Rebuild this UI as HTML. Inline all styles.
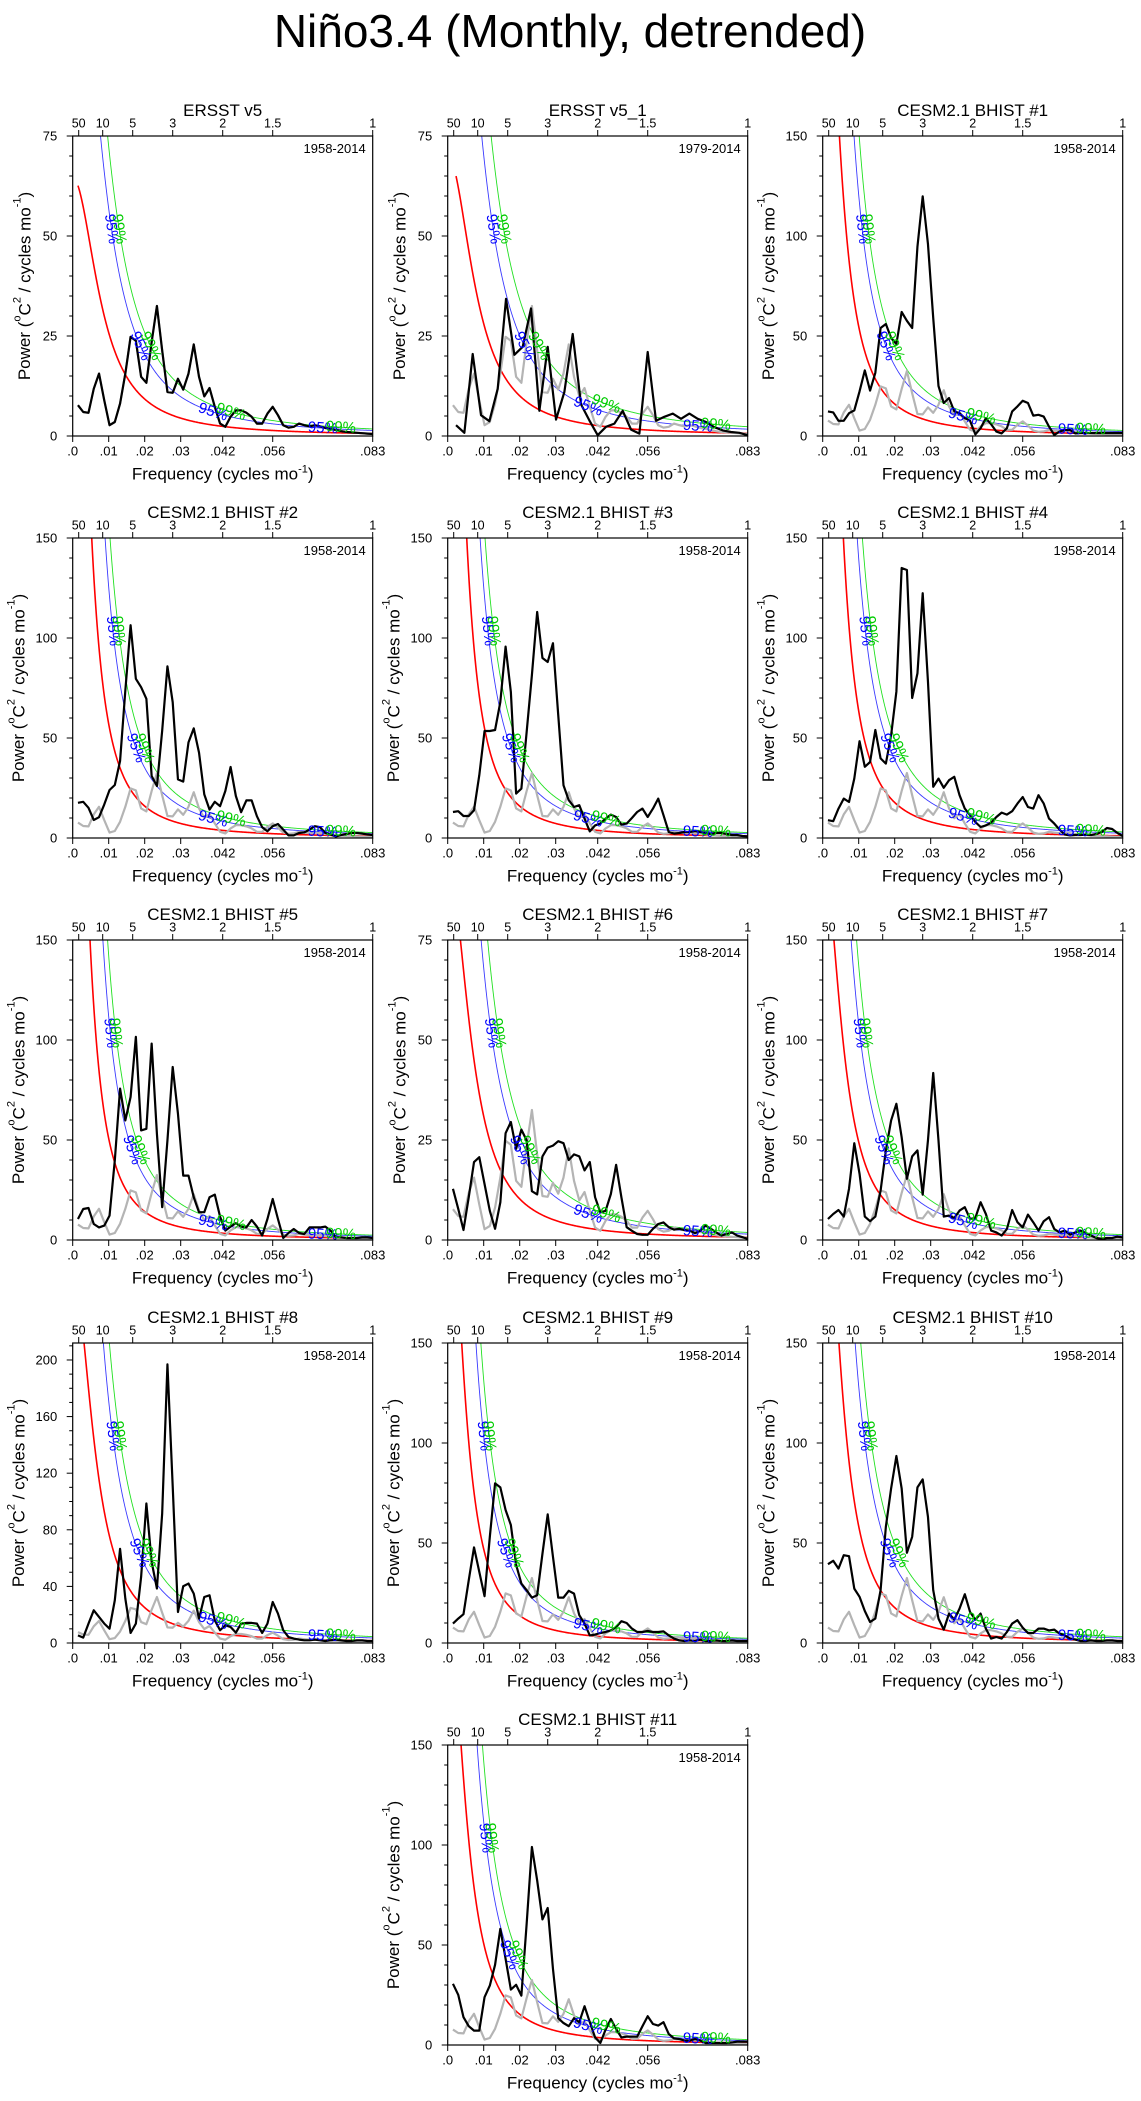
<!DOCTYPE html>
<html><head><meta charset="utf-8"><title>Niño3.4 spectra</title>
<style>html,body{margin:0;padding:0;background:#fff}svg{display:block}text{font-family:"Liberation Sans",Arial,sans-serif}</style>
</head><body>
<svg id="fig" width="1141" height="2101" viewBox="0 0 1141 2101" xmlns="http://www.w3.org/2000/svg">
<rect x="0" y="0" width="1141" height="2101" fill="#fff"/>
<text x="570" y="47" font-size="46" text-anchor="middle">Niño3.4 (Monthly, detrended)</text>
</svg>
<script>
const panelTitles=["ERSST v5","ERSST v5_1","CESM2.1 BHIST #1","CESM2.1 BHIST #2","CESM2.1 BHIST #3","CESM2.1 BHIST #4","CESM2.1 BHIST #5","CESM2.1 BHIST #6","CESM2.1 BHIST #7","CESM2.1 BHIST #8","CESM2.1 BHIST #9","CESM2.1 BHIST #10","CESM2.1 BHIST #11"];
const panelPeriods=["1958-2014","1979-2014","1958-2014","1958-2014","1958-2014","1958-2014","1958-2014","1958-2014","1958-2014","1958-2014","1958-2014","1958-2014","1958-2014"];
const panelYMax=[75,75,150,150,150,150,150,75,150,212,150,150,150];
const nMonths=[684,432,684,684,684,684,684,684,684,684,684,684,684];
const redLag1=[0.95,0.95,0.97,0.975,0.975,0.975,0.975,0.957,0.964,0.96,0.97,0.966,0.966];
const redScale=[0.1615,0.1755,0.259,0.255,0.255,0.284,0.227,0.174,0.25,0.419,0.222,0.29,0.252];
const ci95=[2.2,2.5,2.2,2.2,2.2,2.2,2.2,2.2,2.2,2.2,2.2,2.2,2.2];
const ci99=[2.8,3.4,2.8,2.8,2.8,2.8,2.8,2.8,2.8,2.8,2.8,2.8,2.8];
const xTickLabels=[".0",".01",".02",".03",".042",".056",".083"];
const xTickFreqs=[0,0.01,0.02,0.03,1/24,1/18,1/12];
const topTickLabels=["50","10","5","3","2","1.5","1"];
const topTickPeriods=[50,10,5,3,2,1.5,1];
const ersst=[7.7,6.0,5.8,11.8,15.6,8.9,2.7,3.5,8.1,15.6,24.8,23.8,14.8,13.3,23.5,32.5,21.4,11,10.8,14.3,11.6,15.6,22.9,14.8,9.9,12,7.3,3.1,2.3,4.8,6.4,6.4,5.8,4.8,3.1,3.1,5.6,7.3,5.2,2.7,2.1,2.3,3.1,2.7,2.4,2.7,2.4,2.0,1.8,1.5,1.2,1.0,0.9,0.8,0.7,0.6,0.5];
const ersst1=[2.7,0.8,20.5,5.2,3.7,11.8,34.3,20.3,22.3,31.9,6.3,22.3,4.1,11.0,25.5,7.9,3.9,0.2,2.3,3.1,6.3,1.6,0.6,21.0,3.8,4.8,5.6,4.3,5.6,4.3,3.5,2.2,1.4,1.0,0.8,0.2];
const bhist1=[12.3,11.8,7.6,7.6,11.4,12.8,22.3,32.8,22.7,31.6,54,56,49,46,62,57.6,54,94.6,119.8,96,59,25,16.5,19,12.3,11.4,8.9,7.6,0.8,3.9,8.9,5.9,2.2,1.3,3.9,12.3,14.8,17.6,16.5,10.2,10.6,9.7,4.7,0.5,2.2,3,3,1.3,1.5,1.5,1.5,1.5,1.5,1.5,1.5,1.5,1.5];
const bhist2=[17.6,18.1,15.1,9.0,10.4,16.8,24,26.5,38.5,73.7,106.4,79.6,75.4,69.6,31,26,53.6,85.8,67.9,29.3,28.2,47.8,54.8,42.7,21.8,14.2,18.1,15.9,23.5,35.5,21,12.9,18.8,18.8,10.9,5.4,3.4,5.9,7,4.2,1.3,1.3,2.5,2.8,4.2,5.9,5.4,2.5,1.7,0.8,1.5,2,2.5,2.5,2.2,1.8,1.5];
const bhist3=[13,13.4,11,11,13.9,31.4,53.5,53.5,54,68,95.7,73,22.2,24.7,53,81.5,113,90,88,97.4,61.5,26.4,18.9,15.5,16.4,9.7,3.3,6.3,7.2,9.7,11.7,10.5,6.7,7.2,10,13,14.7,10.5,14.7,19.7,11.4,3,2.2,2.5,3,3,3.5,3,2.5,2,2.5,2.5,2,1.5,1.5,1.0,0.8];
const bhist4=[8.9,8.4,14.7,19.7,18,29.7,48.4,35.6,38,54,39.8,37.2,51.4,73.2,135,134,70,82.3,122.4,78.2,25.6,29.7,25.1,28.9,30.6,21.4,14.7,11.4,8,5.5,6.3,7.7,10.5,12.7,11.7,13.4,17.2,20.5,15.5,14.7,21.4,17.2,9.7,7.2,4.2,1.7,1.3,1.5,1.5,1.7,1.5,2,3,5,4.5,2.5,1];
const bhist5=[10.5,15.5,16,8,6.3,7.2,12.2,39.8,75.7,59.8,71.5,101.6,54.8,55.6,98.2,53.1,16.4,49.8,86.5,63.1,32.2,32.2,21.4,13.9,13.9,21.4,22.7,11.7,4.7,6.7,8.4,6.7,6.3,10,6.7,2.2,10.5,20.5,10.5,1,3.5,5.5,3.5,3,6.3,6.3,6.3,6.7,4.7,1.3,1.3,1,1,1,1.3,1.3,1];
const bhist6=[12.8,7.8,2.5,10.7,19.5,20.7,14,7.3,2.8,9.4,26.7,29.5,22.8,27.6,24.9,12.2,11.4,20.9,23.1,23.6,24.7,24.2,20,21.4,20.9,17.4,19.5,10.7,6.9,7.3,11.5,18.8,10.7,3.2,2.3,1.5,1.3,1.3,2.8,4,4.4,3.2,2.6,2.8,2.5,2.3,1.7,2.3,3.6,2.8,1.9,1.1,1.5,1.9,1.1,0.7,0.3];
const bhist7=[10.5,13.0,15.0,11.7,25.6,48.4,33.1,11.7,9.4,11.7,24.7,44.8,59.8,68.1,51.4,30.6,41.8,44.8,22.7,49.8,83.5,49.8,11.7,12.2,11.0,14.7,16.4,10.5,11.0,18.9,13.0,4.7,3.8,2.2,5.5,15.0,8.9,6.3,12.7,8.9,4.7,9.4,11.4,5.5,3.8,4.7,2.7,3.8,4.7,3.5,2.2,1.0,0.5,1.0,1.0,1.7,1.3];
const bhist8=[5.4,3.8,13.7,23.1,18.4,13.7,10.1,30.2,66.5,31.4,7.1,13.7,46.7,98.6,57.3,38.5,91.5,196.9,110.8,21.9,40.1,42.0,34.9,17.2,32.5,33.7,16.0,9.0,12.5,11.3,7.3,13.7,14.2,14.2,13.7,7.1,13.7,29.0,20.8,9.0,4.2,3.1,2.4,1.9,1.9,2.4,1.9,1.4,1.9,2.4,1.9,1.4,1.4,1.9,1.9,1.4,1.4];
const bhist9=[9.7,12.2,14.4,31.4,47.8,35.6,23.4,53,79.8,77.8,66.5,59,39.1,29.7,26.4,22.7,23.9,44.6,64.3,43.1,22.7,22.7,26.1,24.7,13.9,9.7,3.8,4.2,5,5.5,6.3,8,10.9,10,7.2,5.5,5.5,6,5.5,5.5,5.8,3.8,2.2,1.3,1.0,1.3,1,1.7,1,1,1.3,1,1,1.3,1,1,1];
const bhist10=[39.4,41.1,37.2,43.9,43.4,27.2,23.1,16,10.5,12.2,26.4,58.1,77.3,93.5,77.3,45.1,53.1,77.8,81.8,63.1,26.4,12.2,6.7,14.7,11.7,17.2,24.4,15.5,11.7,14.7,7.2,2.2,3,2.2,5.5,9.7,11.4,7.7,5,5,7.2,7.2,6.3,6.7,4.7,3.8,2.2,1.7,1,1,1.3,1,1,1.3,1.3,1,1];
const bhist11=[30.6,25.1,13.9,9.4,7.2,7.2,23.9,29.7,40.1,58.1,43.1,27.7,30.1,24.7,60.6,99,82.3,62.8,68.5,38.1,13.4,11,9.4,13.4,11.4,19.4,11.4,3.8,1,7.7,13,8,3.8,4.2,4.2,4.2,9.4,14.4,10.5,9.7,11.4,5.5,3.3,3,2.2,2.2,3,2.2,1,1,1,1,1,1.3,1.7,1.7,1.7];
const blackSeries=[ersst,ersst1,bhist1,bhist2,bhist3,bhist4,bhist5,bhist6,bhist7,bhist8,bhist9,bhist10,bhist11];

const NS="http://www.w3.org/2000/svg";
const svg=document.getElementById('fig');
const colX=[72.7,447.7,822.7], rowY=[136,538,940,1343,1745];
const PW=300, PH=300, FMAX=1/12;
function mk(tag,attrs,parent){const e=document.createElementNS(NS,tag);for(const k in attrs)e.setAttribute(k,attrs[k]);parent.appendChild(e);return e;}
function slug(s){return s.toLowerCase().replace(/[^a-z0-9]+/g,'-').replace(/^-|-$/g,'');}

for(let i=0;i<13;i++){
  const col=i===12?1:i%3, row=Math.floor(i/3);
  const L=colX[col], T=rowY[row], ymax=panelYMax[i];
  const xs=f=>L+f/FMAX*PW, ys=v=>T+PH-v/ymax*PH;
  const r=redLag1[i], c=redScale[i];
  const red=f=>c/(1+r*r-2*r*Math.cos(2*Math.PI*f));
  const f0=1/nMonths[i];
  const g=mk('g',{},svg);
  
  
  const cid='clip'+i;
  const cp=mk('clipPath',{id:cid},g); mk('rect',{x:L,y:T,width:PW,height:PH},cp);
  const plot=mk('g',{'clip-path':'url(#'+cid+')'},g);
  function curvePath(fac){let d='';const n=400;for(let j=0;j<=n;j++){const f=f0+(FMAX-f0)*j/n;const v=red(f)*fac;d+=(j?'L':'M')+xs(f).toFixed(2)+','+Math.max(ys(v),T-50).toFixed(2);}return d;}
  const redP=mk('path',{d:curvePath(1),fill:'none',stroke:'#ff0000','stroke-width':1.6},plot);
  
  
  const bP=mk('path',{d:curvePath(ci95[i]),fill:'none',stroke:'#3a3aff','stroke-width':0.9},plot);
  
  
  const gP=mk('path',{d:curvePath(ci99[i]),fill:'none',stroke:'#22e022','stroke-width':0.9},plot);
  
  
  let dg='';ersst.forEach((v,k)=>{dg+=(k?'L':'M')+xs((k+1)/684).toFixed(2)+','+ys(v).toFixed(2);});
  const grayP=mk('path',{d:dg,fill:'none',stroke:'#b4b4b4','stroke-width':2.2,'stroke-linejoin':'round'},plot);
  
  
  let db='';blackSeries[i].forEach((v,k)=>{db+=(k?'L':'M')+xs((k+1)/nMonths[i]).toFixed(2)+','+ys(v).toFixed(2);});
  const blkP=mk('path',{d:db,fill:'none',stroke:'#000','stroke-width':2.2,'stroke-linejoin':'round'},plot);
  
  
  function solveF(target,fac){let a=f0,b=FMAX;for(let j=0;j<60;j++){const m=(a+b)/2;if(red(m)*fac>target)a=m;else b=m;}return (a+b)/2;}
  function place(f,fac,txt,color,name){const d=0.0005;const x1=xs(f-d),x2=xs(f+d),y1=ys(red(f-d)*fac),y2=ys(red(f+d)*fac);
    const ang=Math.atan2(y2-y1,x2-x1)*180/Math.PI;const x=xs(f),y=ys(red(f)*fac);
    const t=mk('text',{x:x.toFixed(1),y:y.toFixed(1),'font-size':15,fill:color,'text-anchor':'middle','dominant-baseline':'central',transform:`rotate(${ang.toFixed(1)} ${x.toFixed(1)} ${y.toFixed(1)})`},plot);
    
    
    t.textContent=txt;}
  [[ci95[i],'95%','#0000ff','label-95'],[ci99[i],'99%','#00cc00','label-99']].forEach(([fac,txt,color,name],q)=>{
    place(solveF(0.69*ymax,fac),fac,txt,color,name);
    place(solveF(0.30*ymax,fac),fac,txt,color,name);
    place(q?0.044:0.039,fac,txt,color,name);
    place(q?0.0745:0.0695,fac,txt,color,name);
  });
  const fr=mk('rect',{x:L,y:T,width:PW,height:PH,fill:'none',stroke:'#000','stroke-width':1.2},g);
  
  
  const major=ymax===75?25:(ymax===212?40:50), minor=ymax===75?5:10;
  for(let v=0;v<=ymax+1e-6;v+=minor){const y=ys(v);const isMaj=Math.abs(v/major-Math.round(v/major))<1e-6;
    mk('line',{x1:L,x2:L-(isMaj?6:3.5),y1:y,y2:y,stroke:'#000','stroke-width':1},g);
    if(isMaj){const t=mk('text',{x:L-15.5,y:y+4.5,'font-size':13,'text-anchor':'end'},g);
      
      
      t.textContent=String(v);}}
  xTickFreqs.forEach((f,k)=>{const x=xs(f);mk('line',{x1:x,x2:x,y1:T+PH,y2:T+PH+6,stroke:'#000','stroke-width':1},g);
    const t=mk('text',{x:x,y:T+PH+19.5,'font-size':13,'text-anchor':'middle'},g);
    
    
    t.textContent=xTickLabels[k];});
  topTickPeriods.forEach((p,k)=>{const x=xs(1/(12*p));mk('line',{x1:x,x2:x,y1:T,y2:T-6,stroke:'#000','stroke-width':1},g);
    const t=mk('text',{x:x,y:T-8.5,'font-size':12.5,'text-anchor':'middle'},g);
    
    
    t.textContent=topTickLabels[k];});
  const tt=mk('text',{x:L+PW/2,y:T-20,'font-size':17,'text-anchor':'middle'},g);
  
  
  tt.textContent=panelTitles[i];
  const pt=mk('text',{x:L+PW-7,y:T+17,'font-size':13,'text-anchor':'end'},g);
  
  
  pt.textContent=panelPeriods[i];
  const xt=mk('text',{x:L+PW/2,y:T+PH+43.5,'font-size':17,'text-anchor':'middle'},g);
  
  
  xt.innerHTML='Frequency (cycles mo<tspan dy="-7" font-size="11">-1</tspan><tspan dy="7">)</tspan>';
  const yx=L-(ymax>=100?54:48), yy=T+PH/2;
  const yt=mk('text',{x:yx,y:yy,'font-size':17,'text-anchor':'middle','dominant-baseline':'central',transform:`rotate(-90 ${yx} ${yy})`},g);
  
  
  yt.innerHTML='Power (<tspan dy="-7" font-size="11">o</tspan><tspan dy="7">C</tspan><tspan dy="-7" font-size="11">2</tspan><tspan dy="7"> / cycles mo</tspan><tspan dy="-7" font-size="11">-1</tspan><tspan dy="7">)</tspan>';
}
</script>
</body></html>
